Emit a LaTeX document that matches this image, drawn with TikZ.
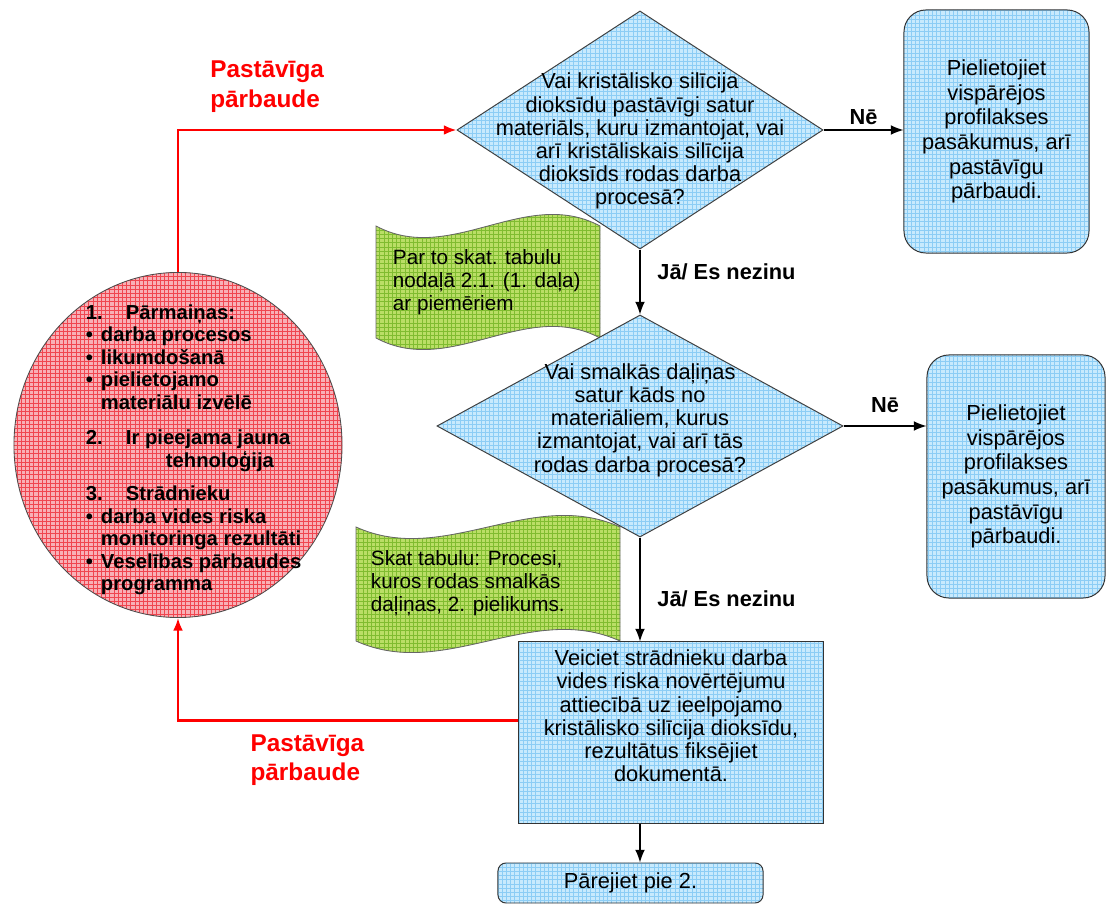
\documentclass[tikz,border=0pt]{standalone}
\usepackage{fontspec}
\setmainfont{Liberation Sans}
\usetikzlibrary{positioning, arrows.meta, shapes.geometric, patterns}

\definecolor{skyA}{RGB}{200,234,253}
\definecolor{skyB}{RGB}{140,205,245}
\definecolor{roseA}{RGB}{248,176,182}
\definecolor{roseB}{RGB}{240,70,80}
\definecolor{limeA}{RGB}{186,222,102}
\definecolor{limeB}{RGB}{128,188,48}

\tikzset{
  skyfill/.style={preaction={fill=skyA}, pattern=grid, pattern color=skyB},
  question/.style={diamond, draw=black!75, line width=0.7pt, skyfill, inner sep=0pt},
  qtext/.style={align=center, font=\fontsize{15.5}{16.5}\selectfont},
  advice/.style={rectangle, draw=black!80, line width=0.7pt, skyfill, align=center,
    font=\fontsize{15.5}{17.5}\selectfont},
  sticky/.style={draw=black!60, line width=0.6pt, preaction={fill=limeA}, pattern=grid, pattern color=limeB},
  notetext/.style={align=left, font=\fontsize{14.7}{16.5}\selectfont},
  flow/.style={->, line width=1pt},
  loopback/.style={->, red, line width=1.6pt},
  redlabel/.style={red, align=left, font=\bfseries\fontsize{17.3}{21}\selectfont},
  answer/.style={font=\bfseries\fontsize{15.5}{17}\selectfont}
}

\begin{document}
\begin{tikzpicture}[x=0.025cm, y=-0.025cm, >={Latex[length=9pt,width=7pt]}]
  \useasboundingbox (0,0) rectangle (1107,905);

  % Notes behind the questions
  \draw[sticky] (376,226) .. controls (450.7,266) and (525.3,186) .. (600,226)
    -- (600,338) .. controls (525.3,298) and (450.7,378) .. (376,338) -- cycle;
  \node[notetext, anchor=west] (note1) at (388,282)
    {Par to skat. tabulu\\nodaļā 2.1. (1. daļa)\\ar piemēriem};
  \draw[sticky] (356,527) .. controls (444,567) and (532,487) .. (620,527)
    -- (620,641) .. controls (532,601) and (444,681) .. (356,641) -- cycle;
  \node[notetext, anchor=west] (note2) at (366,583)
    {Skat tabulu: Procesi,\\kuros rodas smalkās\\daļiņas, 2. pielikums.};

  % Questions
  \node[question, minimum width=9.15cm, minimum height=5.95cm] (ask1) at (640,130) {};
  \node[qtext] (ask1txt) at ([yshift=-0.28cm]ask1.center)
    {Vai kristālisko silīcija\\dioksīdu pastāvīgi satur\\materiāls, kuru izmantojat, vai\\arī kristāliskais silīcija\\dioksīds rodas darba\\procesā?};
  \node[question, minimum width=10.15cm, minimum height=5.55cm] (ask2) at (640,426) {};
  \node[qtext] (ask2txt) at ([yshift=0.15cm]ask2.center)
    {Vai smalkās daļiņas\\satur kāds no\\materiāliem, kurus\\izmantojat, vai arī tās\\rodas darba procesā?};

  % Advice boxes
  \node[advice, rounded corners=0.55cm, minimum width=4.625cm, minimum height=6.075cm] (adv1) at (996.5,131.5)
    {Pielietojiet\\vispārējos\\profilakses\\pasākumus, arī\\pastāvīgu\\pārbaudi.};
  \node[advice, rounded corners=0.55cm, minimum width=4.45cm, minimum height=6.075cm] (adv2) at (1016,476.5)
    {Pielietojiet\\vispārējos\\profilakses\\pasākumus, arī\\pastāvīgu\\pārbaudi.};
  \node[advice, minimum width=7.6cm, minimum height=4.525cm, font=\fontsize{15.5}{16.5}\selectfont] (assess) at (671,732.5)
    {Veiciet strādnieku darba\\vides riska novērtējumu\\attiecībā uz ieelpojamo\\kristālisko silīcija dioksīdu,\\rezultātus fiksējiet\\dokumentā.\\[0.25cm]};
  \node[advice, rounded corners=0.2cm, minimum width=6.625cm, minimum height=1cm] (goto) at (630.5,883)
    {Pārejiet pie 2.};

  % Changes
  \node[ellipse, draw=black!70, line width=0.6pt, preaction={fill=roseA}, pattern=grid, pattern color=roseB,
    minimum width=8.2cm, minimum height=8.625cm] (change) at (178,445) {};
  \node[align=left, anchor=west, font=\bfseries\fontsize{14.4}{16}\selectfont] (changetxt) at (81,450)
    {\makebox[1cm][l]{1.}Pārmaiņas:\\
     \makebox[0.375cm][l]{\textbullet}darba procesos\\
     \makebox[0.375cm][l]{\textbullet}likumdošanā\\
     \makebox[0.375cm][l]{\textbullet}pielietojamo\\
     \hspace*{0.375cm}materiālu izvēlē\\[9pt]
     \makebox[1cm][l]{2.}Ir pieejama jauna\\
     \hspace*{2cm}tehnoloģija\\[8pt]
     \makebox[1cm][l]{3.}Strādnieku\\
     \makebox[0.375cm][l]{\textbullet}darba vides riska\\
     \hspace*{0.375cm}monitoringa rezultāti\\
     \makebox[0.375cm][l]{\textbullet}Veselības pārbaudes\\
     \hspace*{0.375cm}programma};

  % Connectors
  \draw[loopback] (change.north) |- node[pos=0.66, above=0.3cm, redlabel] {Pastāvīga\\pārbaude} (ask1.west);
  \draw[flow] (ask1.east) -- node[above, answer] {Nē} (ask1.east -| adv1.west);
  \draw[flow] (ask1.south) -- node[pos=0.35, right=0.3cm, answer] {Jā/ Es nezinu} (ask2.north);
  \draw[flow] (ask2.east) -- node[above=0.2cm, answer] {Nē} (ask2.east -| adv2.west);
  \draw[flow] (ask2.south) -- node[pos=0.59, right=0.3cm, answer] {Jā/ Es nezinu} (ask2.south |- assess.north);
  \draw[loopback] ([yshift=0.3cm]assess.west) -| node[pos=0.31, below=0.2cm, redlabel] {Pastāvīga\\pārbaude} (change.south);
  \draw[flow] (assess.south -| ask2.south) -- (goto.north -| ask2.south);
\end{tikzpicture}
\end{document}
